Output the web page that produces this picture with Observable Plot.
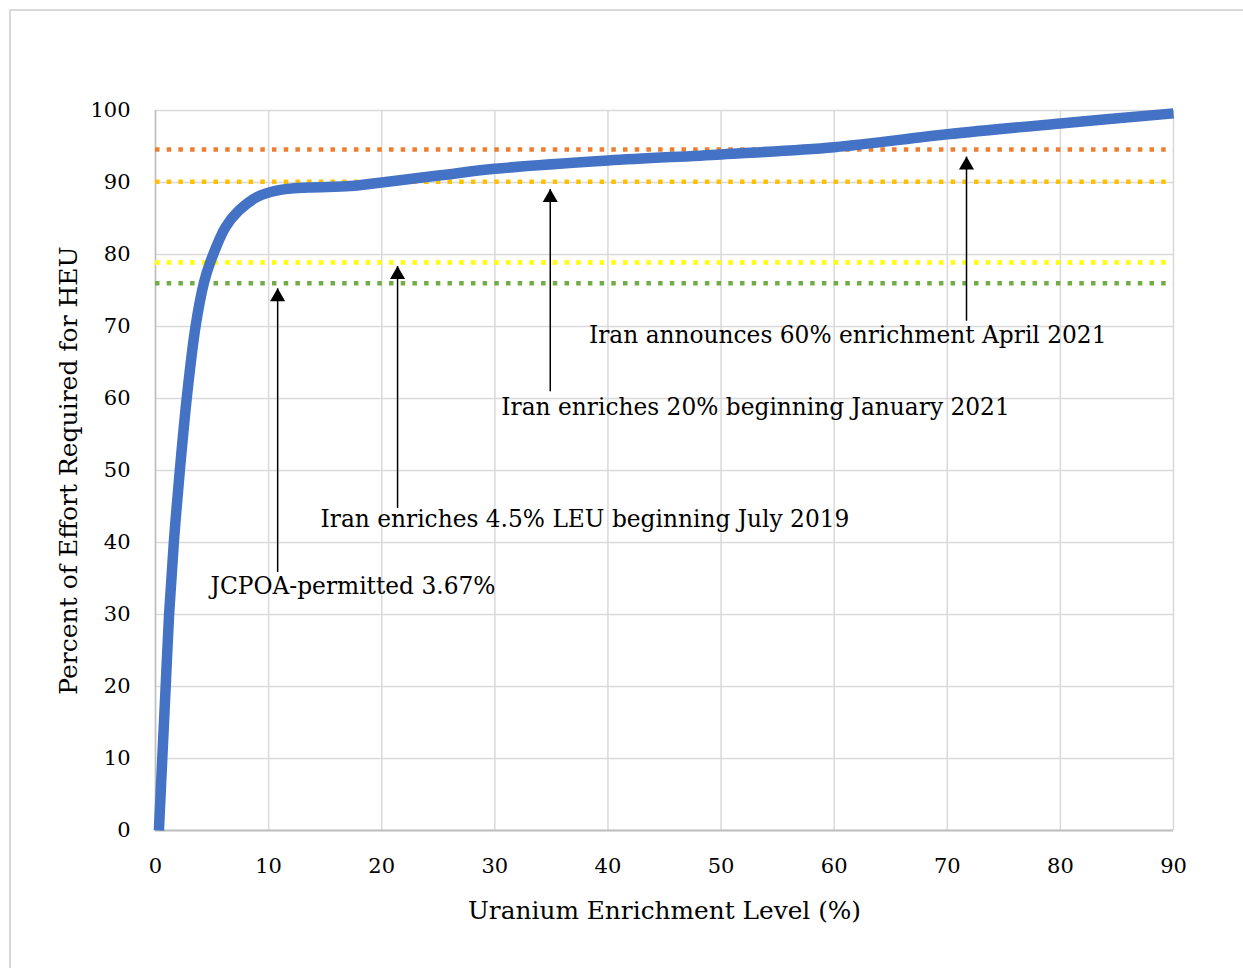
<!DOCTYPE html>
<html><head><meta charset="utf-8">
<script src="https://cdn.jsdelivr.net/npm/d3@7"></script>
<script src="https://cdn.jsdelivr.net/npm/@observablehq/plot@0.6"></script>
<style>
body{margin:0;background:#fff;overflow:hidden;}
#frame{position:absolute;left:9px;top:9px;width:1300px;height:1000px;border:2px solid #d9d9d9;}
#chart{position:absolute;left:0;top:0;}
</style></head><body><div id="frame"></div><div id="chart"></div>
<script>
// Curve: percent of effort required for HEU vs enrichment level
const enrichment = [0.3, 0.6, 0.9, 1.2, 1.62, 2.15, 2.8, 3.54, 4.27, 4.86, 6.19, 7.37, 9.0, 10.8, 13.4, 17.2, 20, 25.2, 30, 40, 50, 60, 70, 80, 90];
const effort     = [0, 10, 20, 30, 40, 50, 60.6, 70, 76, 79, 83.8, 86.1, 88, 88.9, 89.3, 89.5, 90.0, 91.0, 91.9, 93.05, 93.9, 94.9, 96.7, 98.2, 99.6];

// Dotted reference levels
const refLevels = [94.6, 90.1, 78.9, 76.0];
const refColors = ["#ED7D31", "#FFC000", "#FFFF00", "#70AD47"];

// Annotation arrows
const arrowX    = [10.8, 21.4, 34.9, 71.7];
const arrowTip  = [75.3, 78.4, 89.1, 93.6];
const arrowBase = [35.9, 44.8, 61.0, 70.8];

// Annotation labels
const noteText = ["JCPOA-permitted 3.67%", "Iran enriches 4.5% LEU beginning July 2019", "Iran enriches 20% beginning January 2021", "Iran announces 60% enrichment April 2021"];
const noteX = [17.46, 37.97, 53.05, 61.2];
const noteY = [33.9, 43.2, 58.75, 68.75];

const xTicks = [0, 10, 20, 30, 40, 50, 60, 70, 80, 90];
const yTicks = [0, 10, 20, 30, 40, 50, 60, 70, 80, 90, 100];
const xTitle = "Uranium Enrichment Level (%)";
const yTitle = "Percent of Effort Required for HEU";

const curve = enrichment.map((x, i) => ({x, y: effort[i]}));
const refs = refLevels.map((v, i) => ({v, c: refColors[i]}));
const arrows = arrowX.map((x, i) => ({x, tip: arrowTip[i], base: arrowBase[i]}));
const notes = noteText.map((t, i) => ({t, x: noteX[i], y: noteY[i]}));

const chart = Plot.plot({
  width: 1243,
  height: 968,
  marginLeft: 155,
  marginRight: 70,
  marginTop: 110,
  marginBottom: 138,
  style: {fontFamily: "DejaVu Serif", fontSize: "21px", color: "#000", background: "transparent"},
  x: {domain: [0, 90]},
  y: {domain: [0, 100]},
  color: {type: "identity"},
  marks: [
    Plot.gridX(xTicks, {stroke: "#d9d9d9", strokeOpacity: 1, strokeWidth: 1.5}),
    Plot.gridY(yTicks, {stroke: "#d9d9d9", strokeOpacity: 1, strokeWidth: 1.5}),
    Plot.ruleY([0], {stroke: "#bfbfbf", strokeWidth: 2}),
    Plot.ruleX([0], {stroke: "#bfbfbf", strokeWidth: 1.5}),
    Plot.axisX({ticks: xTicks, tickSize: 0, tickPadding: 28, label: null, tickFormat: d => String(d)}),
    Plot.axisY({ticks: yTicks, tickSize: 0, tickPadding: 25, label: null, tickFormat: d => String(d)}),
    Plot.ruleY(refs, {y: "v", stroke: "c", strokeWidth: 4.5, strokeDasharray: "4.5,7.2"}),
    Plot.line(curve, {x: "x", y: "y", stroke: "#4472C4", strokeWidth: 10.5, curve: "catmull-rom", strokeLinecap: "butt", strokeLinejoin: "round"}),
    Plot.link(arrows, {x1: "x", x2: "x", y1: "base", y2: "tip", stroke: "#000", strokeWidth: 1.5}),
    Plot.dot(arrows, {x: "x", y: "tip", symbol: "triangle", r: 5.6, fill: "#000", stroke: "none", dy: 8.66}),
    Plot.text(notes, {x: "x", y: "y", text: "t", fill: "#000", fontSize: 23.3}),
    Plot.text([xTitle], {frameAnchor: "bottom", text: d => d, dy: 81, lineAnchor: "middle", textAnchor: "middle", fontSize: 24.8}),
    Plot.text([yTitle], {frameAnchor: "left", text: d => d, rotate: -90, dx: -87, textAnchor: "middle", lineAnchor: "middle", fontSize: 25})
  ]
});
document.getElementById("chart").appendChild(chart);
</script></body></html>
